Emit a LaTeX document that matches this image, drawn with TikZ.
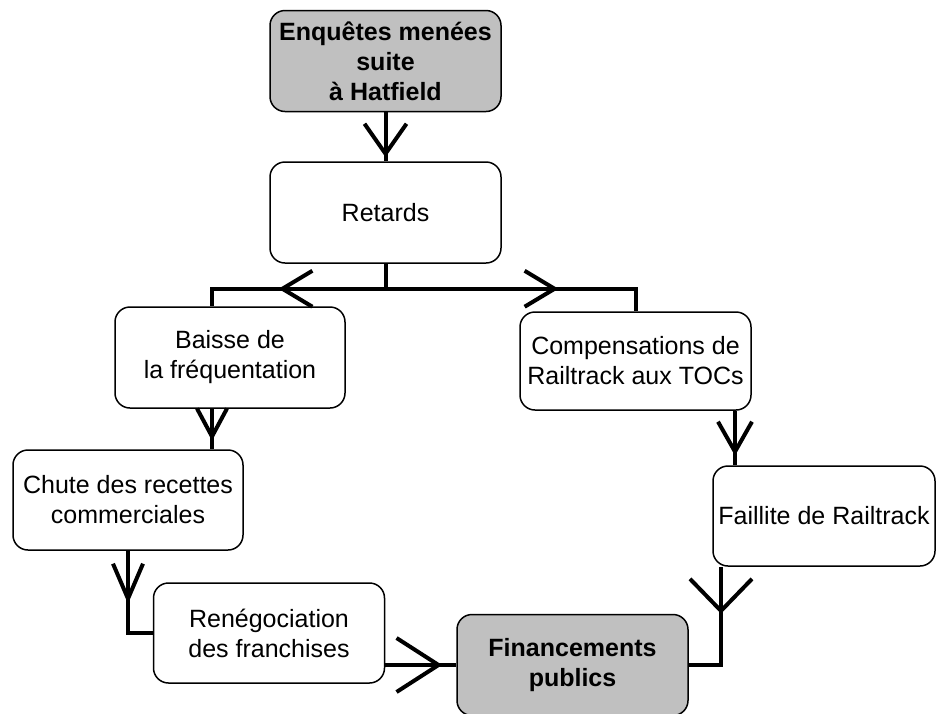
\documentclass[tikz,border=0pt]{standalone}
\usepackage{fontspec}
\setmainfont{Liberation Sans}
\usepackage{tikz}
\usetikzlibrary{arrows.meta,decorations.markings}

\definecolor{gris}{RGB}{192,192,192}

\tikzset{
  boite/.style={draw, line width=1.5pt, rounded corners=15pt, fill=white, align=center,
    minimum width=231, minimum height=101, inner sep=0pt,
    font=\fontsize{25}{30}\selectfont},
  boitegrise/.style={boite, fill=gris, font=\fontsize{25}{30}\selectfont\bfseries},
  lien/.style={line width=4pt},
  pointe/.style args={#1/#2/#3}{postaction={decorate}, decoration={markings,
    mark=at position #1 with {\arrow[line width=4pt]{Straight Barb[length=#2, width=#3]}}}}
}

\begin{document}
\begin{tikzpicture}[x=1pt, y=-1pt]

\useasboundingbox (0,0) rectangle (937,713);

\node[boitegrise] (enq) at (385.5,61) {Enquêtes menées\\suite\\à Hatfield};
\node[boite] (ret) at (385.5,212.5) {Retards};
\node[boite, minimum width=230] (baisse) at (230,357.5) {Baisse de\\la fréquentation};
\node[boite, minimum height=98] (comp) at (635.5,361) {Compensations de\\Railtrack aux TOCs};
\node[boite, minimum width=230, minimum height=100] (chute) at (128,500) {Chute des recettes\\commerciales};
\node[boite, minimum width=222, minimum height=100] (faillite) at (824,516) {Faillite de Railtrack};
\node[boite, minimum height=100] (reneg) at (269,633) {Renégociation\\des franchises};
\node[boitegrise] (fin) at (572.5,665) {Financements\\publics};

\coordinate (xa) at (212,0);
\coordinate (xb) at (735,0);
\coordinate (xc) at (721,0);

\draw[lien, pointe=45pt/30pt/42pt] (enq) -- (ret);
\draw[lien, pointe=132pt/30pt/36pt] (ret.south) -- ++(0,25) -| (baisse.north -| xa);
\draw[lien, pointe=198pt/30pt/36pt] (ret.south) -- ++(0,25) -| (comp.north);
\draw[lien, pointe=32pt/28pt/30pt] (baisse.south -| xa) -- (chute.north -| xa);
\draw[lien, pointe=45pt/30pt/34pt] (comp.south -| xb) -- (faillite.north -| xb);
\draw[lien, pointe=53pt/35pt/30pt] (chute.south) |- (reneg.west);
\draw[lien, pointe=57pt/42pt/54pt] (reneg.east |- fin.west) -- (fin.west);
\draw[lien, pointe=47pt/32pt/62pt] (faillite.south -| xc) |- (fin.east);

\end{tikzpicture}
\end{document}
